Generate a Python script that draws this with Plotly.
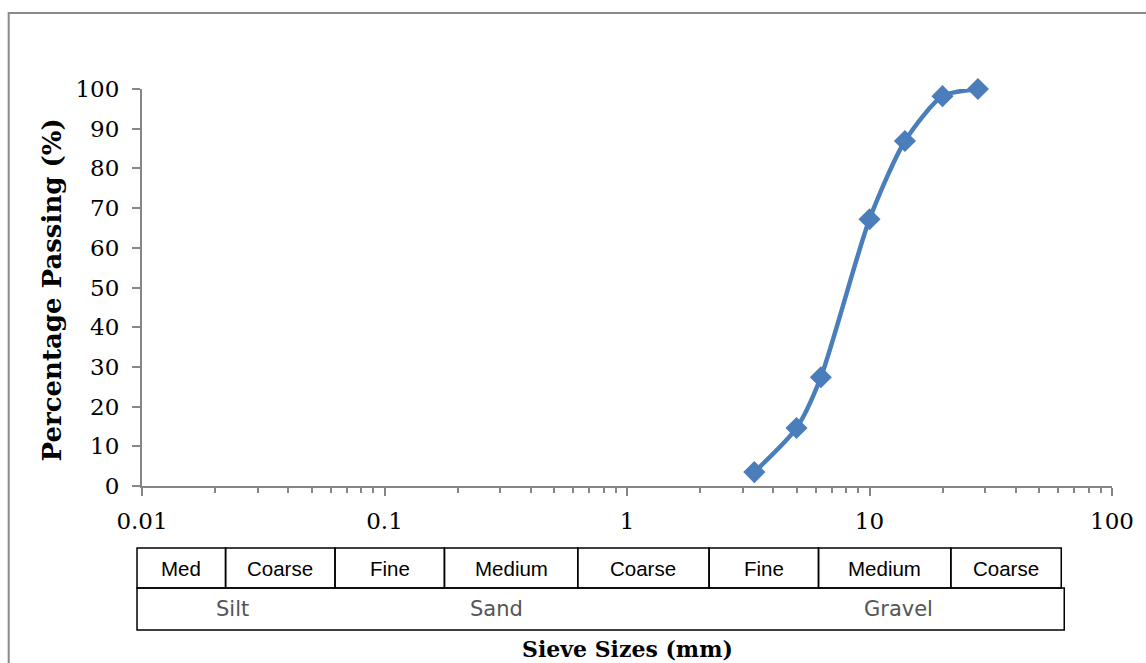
import plotly.graph_objects as go

# Sieve analysis results
sieve_mm = [3.35, 5.0, 6.3, 10.0, 14.0, 20.0, 28.0]
passing_pct = [3.5, 14.6, 27.4, 67.2, 86.9, 98.2, 100.0]

y_ticks = list(range(0, 101, 10))
x_tick_vals = [0.01, 0.1, 1, 10, 100]
x_tick_text = ["0.01", "0.1", "1", "10", "100"]

# Soil classification bands shown under the axis
sub_labels = ["Med", "Coarse", "Fine", "Medium", "Coarse", "Fine", "Medium", "Coarse"]
main_labels = ["Silt", "Sand", "Gravel"]

W, H = 1146, 663
L, R, T, B = 142, 1117, 89, 486


def px(x):
    return (x - L) / (R - L)


def py(y):
    return (B - y) / (B - T)


fig = go.Figure()
fig.add_trace(go.Scatter(
    x=sieve_mm, y=passing_pct,
    mode="lines+markers",
    line=dict(color="#4A7EBB", width=4.5, shape="spline", smoothing=0.7),
    marker=dict(symbol="diamond", size=17, color="#4A7EBB"),
    cliponaxis=False,
    showlegend=False,
    hoverinfo="x+y",
))

serif = "DejaVu Serif"
fig.update_layout(
    width=W, height=H,
    margin=dict(l=L, r=W - R, t=T, b=H - B),
    paper_bgcolor="white", plot_bgcolor="white",
    font=dict(family=serif, size=23, color="black"),
    xaxis=dict(
        type="log", range=[-2, 2],
        tickvals=x_tick_vals, ticktext=x_tick_text,
        ticks="outside", ticklen=8, tickwidth=2, tickcolor="#868686",
        showline=True, linecolor="#868686", linewidth=2,
        showgrid=False, zeroline=False,
        minor=dict(ticks="outside", ticklen=5, tickwidth=1.5, tickcolor="#868686",
                   dtick="D1", showgrid=False),
        tickfont=dict(family=serif, size=23),
        ticklabelstandoff=5,
    ),
    yaxis=dict(
        range=[0, 100], tickvals=y_ticks,
        ticks="outside", ticklen=8, tickwidth=2, tickcolor="#868686",
        showline=True, linecolor="#868686", linewidth=2,
        showgrid=False, zeroline=False,
        tickfont=dict(family=serif, size=23),
        ticklabelstandoff=8,
    ),
)

shapes = []
# chart area frame
shapes.append(dict(type="rect", xref="paper", yref="paper",
                   x0=px(8), x1=px(1160), y0=py(13), y1=py(680),
                   line=dict(color="#8A8A8A", width=2), layer="below"))

# classification table
row1_edges = [137, 226, 336, 446, 580, 712, 822, 955, 1066]
row1_top, row1_bot = 548, 588
row2_left, row2_right, row2_bot = 137, 1069, 630
for i in range(len(sub_labels)):
    shapes.append(dict(type="rect", xref="paper", yref="paper",
                       x0=px(row1_edges[i]), x1=px(row1_edges[i + 1]),
                       y0=py(row1_bot), y1=py(row1_top),
                       line=dict(color="black", width=1.5)))
shapes.append(dict(type="rect", xref="paper", yref="paper",
                   x0=px(row2_left), x1=px(row2_right),
                   y0=py(row2_bot), y1=py(row1_bot),
                   line=dict(color="black", width=1.5)))

annotations = []
for i, lab in enumerate(sub_labels):
    cx = (row1_edges[i] + row1_edges[i + 1]) / 2
    annotations.append(dict(x=px(cx), y=py((row1_top + row1_bot) / 2),
                            xref="paper", yref="paper", text=lab, showarrow=False,
                            font=dict(family="Liberation Sans", size=20.5, color="black"),
                            xanchor="center", yanchor="middle"))

main_centers = [233, 498, 902]
for lab, cx in zip(main_labels, main_centers):
    annotations.append(dict(x=px(cx), y=py((row1_bot + row2_bot) / 2),
                            xref="paper", yref="paper", text=lab, showarrow=False,
                            font=dict(family="DejaVu Sans", size=21, color="#555555"),
                            xanchor="center", yanchor="middle"))

# axis titles
annotations.append(dict(x=px(52), y=py(290), xref="paper", yref="paper",
                        text="<b>Percentage Passing (%)</b>", showarrow=False, textangle=-90,
                        font=dict(family=serif, size=26, color="black"),
                        xanchor="center", yanchor="middle"))
annotations.append(dict(x=px(630), y=py(649), xref="paper", yref="paper",
                        text="<b>Sieve Sizes (mm)</b>", showarrow=False,
                        font=dict(family=serif, size=22, color="black"),
                        xanchor="center", yanchor="middle"))

fig.update_layout(shapes=shapes, annotations=annotations)
fig.write_html("out.html")
